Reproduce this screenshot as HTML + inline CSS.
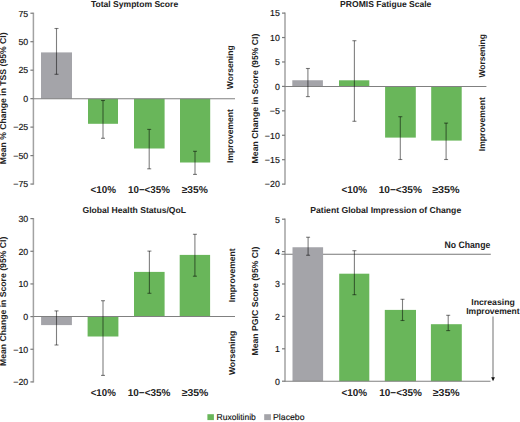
<!DOCTYPE html>
<html><head><meta charset="utf-8"><style>
html,body{margin:0;padding:0;background:#fff;}
svg{display:block;font-family:"Liberation Sans",sans-serif;text-rendering:geometricPrecision;}
</style></head><body>
<svg width="520" height="422" viewBox="0 0 520 422">
<rect x="0" y="0" width="520" height="422" fill="#fff"/>
<line x1="33.40" y1="12.63" x2="33.40" y2="184.67" stroke="#a2a2a2" stroke-width="1.5"/>
<line x1="30.40" y1="13.23" x2="33.40" y2="13.23" stroke="#7a7a7a" stroke-width="1.2"/>
<text x="28.20" y="16.53" font-size="8.8" text-anchor="end" fill="#111" stroke="#111" stroke-width="0.15">75</text>
<line x1="30.40" y1="41.70" x2="33.40" y2="41.70" stroke="#7a7a7a" stroke-width="1.2"/>
<text x="28.20" y="45.00" font-size="8.8" text-anchor="end" fill="#111" stroke="#111" stroke-width="0.15">50</text>
<line x1="30.40" y1="70.18" x2="33.40" y2="70.18" stroke="#7a7a7a" stroke-width="1.2"/>
<text x="28.20" y="73.48" font-size="8.8" text-anchor="end" fill="#111" stroke="#111" stroke-width="0.15">25</text>
<line x1="30.40" y1="98.65" x2="33.40" y2="98.65" stroke="#7a7a7a" stroke-width="1.2"/>
<text x="28.20" y="101.95" font-size="8.8" text-anchor="end" fill="#111" stroke="#111" stroke-width="0.15">0</text>
<line x1="30.40" y1="127.12" x2="33.40" y2="127.12" stroke="#7a7a7a" stroke-width="1.2"/>
<text x="28.20" y="130.43" font-size="8.8" text-anchor="end" fill="#111" stroke="#111" stroke-width="0.15">−25</text>
<line x1="30.40" y1="155.60" x2="33.40" y2="155.60" stroke="#7a7a7a" stroke-width="1.2"/>
<text x="28.20" y="158.90" font-size="8.8" text-anchor="end" fill="#111" stroke="#111" stroke-width="0.15">−50</text>
<line x1="30.40" y1="184.07" x2="33.40" y2="184.07" stroke="#7a7a7a" stroke-width="1.2"/>
<text x="28.20" y="187.38" font-size="8.8" text-anchor="end" fill="#111" stroke="#111" stroke-width="0.15">−75</text>
<rect x="41.00" y="52.40" width="31.00" height="46.35" fill="#a4a4a9"/>
<rect x="88.00" y="98.75" width="30.00" height="25.05" fill="#69b65a"/>
<rect x="134.00" y="98.75" width="30.60" height="49.75" fill="#69b65a"/>
<rect x="180.00" y="98.75" width="30.20" height="63.75" fill="#69b65a"/>
<line x1="33.40" y1="98.75" x2="235.00" y2="98.75" stroke="#808080" stroke-width="1.15"/>
<line x1="56.50" y1="28.50" x2="56.50" y2="74.30" stroke="#000" stroke-width="1.1" stroke-opacity="0.5"/>
<line x1="54.50" y1="28.50" x2="58.50" y2="28.50" stroke="#000" stroke-width="1.1" stroke-opacity="0.5"/>
<line x1="54.50" y1="74.30" x2="58.50" y2="74.30" stroke="#000" stroke-width="1.1" stroke-opacity="0.5"/>
<line x1="103.00" y1="100.50" x2="103.00" y2="138.30" stroke="#000" stroke-width="1.1" stroke-opacity="0.5"/>
<line x1="101.00" y1="100.50" x2="105.00" y2="100.50" stroke="#000" stroke-width="1.1" stroke-opacity="0.5"/>
<line x1="101.00" y1="138.30" x2="105.00" y2="138.30" stroke="#000" stroke-width="1.1" stroke-opacity="0.5"/>
<line x1="149.20" y1="129.40" x2="149.20" y2="168.80" stroke="#000" stroke-width="1.1" stroke-opacity="0.5"/>
<line x1="147.20" y1="129.40" x2="151.20" y2="129.40" stroke="#000" stroke-width="1.1" stroke-opacity="0.5"/>
<line x1="147.20" y1="168.80" x2="151.20" y2="168.80" stroke="#000" stroke-width="1.1" stroke-opacity="0.5"/>
<line x1="195.00" y1="151.30" x2="195.00" y2="174.40" stroke="#000" stroke-width="1.1" stroke-opacity="0.5"/>
<line x1="193.00" y1="151.30" x2="197.00" y2="151.30" stroke="#000" stroke-width="1.1" stroke-opacity="0.5"/>
<line x1="193.00" y1="174.40" x2="197.00" y2="174.40" stroke="#000" stroke-width="1.1" stroke-opacity="0.5"/>
<text x="90.91" y="7.00" font-size="8.6" font-weight="bold" fill="#222" textLength="87.27" lengthAdjust="spacingAndGlyphs">Total Symptom Score</text>
<text x="233.40" y="89.20" transform="rotate(-90 233.40 89.20)" font-size="8.6" font-weight="bold" fill="#222" textLength="43.86" lengthAdjust="spacingAndGlyphs">Worsening</text>
<text x="233.50" y="162.88" transform="rotate(-90 233.50 162.88)" font-size="8.6" font-weight="bold" fill="#222" textLength="53.78" lengthAdjust="spacingAndGlyphs">Improvement</text>
<text x="6.30" y="164.18" transform="rotate(-90 6.30 164.18)" font-size="8.6" font-weight="bold" fill="#222" textLength="131.72" lengthAdjust="spacingAndGlyphs">Mean % Change in TSS (95% CI)</text>
<text x="90.48" y="193.00" font-size="10.0" font-weight="bold" fill="#222" textLength="25.47" lengthAdjust="spacingAndGlyphs">&lt;10%</text>
<text x="128.09" y="193.00" font-size="10.0" font-weight="bold" fill="#222" textLength="41.77" lengthAdjust="spacingAndGlyphs">10−&lt;35%</text>
<text x="181.67" y="193.00" font-size="10.0" font-weight="bold" fill="#222" textLength="26.12" lengthAdjust="spacingAndGlyphs">≥35%</text>
<line x1="285.00" y1="12.51" x2="285.00" y2="184.72" stroke="#a2a2a2" stroke-width="1.5"/>
<line x1="282.00" y1="13.11" x2="285.00" y2="13.11" stroke="#7a7a7a" stroke-width="1.2"/>
<text x="279.80" y="16.41" font-size="8.8" text-anchor="end" fill="#111" stroke="#111" stroke-width="0.15">15</text>
<line x1="282.00" y1="37.54" x2="285.00" y2="37.54" stroke="#7a7a7a" stroke-width="1.2"/>
<text x="279.80" y="40.84" font-size="8.8" text-anchor="end" fill="#111" stroke="#111" stroke-width="0.15">10</text>
<line x1="282.00" y1="61.97" x2="285.00" y2="61.97" stroke="#7a7a7a" stroke-width="1.2"/>
<text x="279.80" y="65.27" font-size="8.8" text-anchor="end" fill="#111" stroke="#111" stroke-width="0.15">5</text>
<line x1="282.00" y1="86.40" x2="285.00" y2="86.40" stroke="#7a7a7a" stroke-width="1.2"/>
<text x="279.80" y="89.70" font-size="8.8" text-anchor="end" fill="#111" stroke="#111" stroke-width="0.15">0</text>
<line x1="282.00" y1="110.83" x2="285.00" y2="110.83" stroke="#7a7a7a" stroke-width="1.2"/>
<text x="279.80" y="114.13" font-size="8.8" text-anchor="end" fill="#111" stroke="#111" stroke-width="0.15">−5</text>
<line x1="282.00" y1="135.26" x2="285.00" y2="135.26" stroke="#7a7a7a" stroke-width="1.2"/>
<text x="279.80" y="138.56" font-size="8.8" text-anchor="end" fill="#111" stroke="#111" stroke-width="0.15">−10</text>
<line x1="282.00" y1="159.69" x2="285.00" y2="159.69" stroke="#7a7a7a" stroke-width="1.2"/>
<text x="279.80" y="162.99" font-size="8.8" text-anchor="end" fill="#111" stroke="#111" stroke-width="0.15">−15</text>
<line x1="282.00" y1="184.12" x2="285.00" y2="184.12" stroke="#7a7a7a" stroke-width="1.2"/>
<text x="279.80" y="187.42" font-size="8.8" text-anchor="end" fill="#111" stroke="#111" stroke-width="0.15">−20</text>
<rect x="292.30" y="80.25" width="30.60" height="6.25" fill="#a4a4a9"/>
<rect x="339.00" y="80.30" width="30.30" height="6.20" fill="#69b65a"/>
<rect x="385.10" y="86.50" width="30.70" height="51.10" fill="#69b65a"/>
<rect x="431.20" y="86.50" width="30.50" height="54.10" fill="#69b65a"/>
<line x1="285.00" y1="86.50" x2="486.40" y2="86.50" stroke="#808080" stroke-width="1.15"/>
<line x1="307.90" y1="68.50" x2="307.90" y2="96.60" stroke="#000" stroke-width="1.1" stroke-opacity="0.5"/>
<line x1="305.90" y1="68.50" x2="309.90" y2="68.50" stroke="#000" stroke-width="1.1" stroke-opacity="0.5"/>
<line x1="305.90" y1="96.60" x2="309.90" y2="96.60" stroke="#000" stroke-width="1.1" stroke-opacity="0.5"/>
<line x1="354.40" y1="40.70" x2="354.40" y2="121.30" stroke="#000" stroke-width="1.1" stroke-opacity="0.5"/>
<line x1="352.40" y1="40.70" x2="356.40" y2="40.70" stroke="#000" stroke-width="1.1" stroke-opacity="0.5"/>
<line x1="352.40" y1="121.30" x2="356.40" y2="121.30" stroke="#000" stroke-width="1.1" stroke-opacity="0.5"/>
<line x1="400.30" y1="116.70" x2="400.30" y2="159.50" stroke="#000" stroke-width="1.1" stroke-opacity="0.5"/>
<line x1="398.30" y1="116.70" x2="402.30" y2="116.70" stroke="#000" stroke-width="1.1" stroke-opacity="0.5"/>
<line x1="398.30" y1="159.50" x2="402.30" y2="159.50" stroke="#000" stroke-width="1.1" stroke-opacity="0.5"/>
<line x1="446.10" y1="123.10" x2="446.10" y2="159.50" stroke="#000" stroke-width="1.1" stroke-opacity="0.5"/>
<line x1="444.10" y1="123.10" x2="448.10" y2="123.10" stroke="#000" stroke-width="1.1" stroke-opacity="0.5"/>
<line x1="444.10" y1="159.50" x2="448.10" y2="159.50" stroke="#000" stroke-width="1.1" stroke-opacity="0.5"/>
<text x="340.12" y="7.00" font-size="8.6" font-weight="bold" fill="#222" textLength="91.27" lengthAdjust="spacingAndGlyphs">PROMIS Fatigue Scale</text>
<text x="485.10" y="77.60" transform="rotate(-90 485.10 77.60)" font-size="8.6" font-weight="bold" fill="#222" textLength="43.56" lengthAdjust="spacingAndGlyphs">Worsening</text>
<text x="485.20" y="151.18" transform="rotate(-90 485.20 151.18)" font-size="8.6" font-weight="bold" fill="#222" textLength="54.08" lengthAdjust="spacingAndGlyphs">Improvement</text>
<text x="257.60" y="163.39" transform="rotate(-90 257.60 163.39)" font-size="8.6" font-weight="bold" fill="#222" textLength="129.83" lengthAdjust="spacingAndGlyphs">Mean Change in Score (95% CI)</text>
<text x="341.58" y="193.00" font-size="10.0" font-weight="bold" fill="#222" textLength="25.57" lengthAdjust="spacingAndGlyphs">&lt;10%</text>
<text x="378.67" y="193.00" font-size="10.0" font-weight="bold" fill="#222" textLength="43.20" lengthAdjust="spacingAndGlyphs">10−&lt;35%</text>
<text x="432.16" y="193.00" font-size="10.0" font-weight="bold" fill="#222" textLength="27.54" lengthAdjust="spacingAndGlyphs">≥35%</text>
<line x1="33.40" y1="218.02" x2="33.40" y2="382.52" stroke="#a2a2a2" stroke-width="1.5"/>
<line x1="30.40" y1="218.62" x2="33.40" y2="218.62" stroke="#7a7a7a" stroke-width="1.2"/>
<text x="28.20" y="221.92" font-size="8.8" text-anchor="end" fill="#111" stroke="#111" stroke-width="0.15">30</text>
<line x1="30.40" y1="251.28" x2="33.40" y2="251.28" stroke="#7a7a7a" stroke-width="1.2"/>
<text x="28.20" y="254.58" font-size="8.8" text-anchor="end" fill="#111" stroke="#111" stroke-width="0.15">20</text>
<line x1="30.40" y1="283.94" x2="33.40" y2="283.94" stroke="#7a7a7a" stroke-width="1.2"/>
<text x="28.20" y="287.24" font-size="8.8" text-anchor="end" fill="#111" stroke="#111" stroke-width="0.15">10</text>
<line x1="30.40" y1="316.60" x2="33.40" y2="316.60" stroke="#7a7a7a" stroke-width="1.2"/>
<text x="28.20" y="319.90" font-size="8.8" text-anchor="end" fill="#111" stroke="#111" stroke-width="0.15">0</text>
<line x1="30.40" y1="349.26" x2="33.40" y2="349.26" stroke="#7a7a7a" stroke-width="1.2"/>
<text x="28.20" y="352.56" font-size="8.8" text-anchor="end" fill="#111" stroke="#111" stroke-width="0.15">−10</text>
<line x1="30.40" y1="381.92" x2="33.40" y2="381.92" stroke="#7a7a7a" stroke-width="1.2"/>
<text x="28.20" y="385.22" font-size="8.8" text-anchor="end" fill="#111" stroke="#111" stroke-width="0.15">−20</text>
<rect x="41.10" y="316.50" width="30.80" height="8.60" fill="#a4a4a9"/>
<rect x="87.60" y="316.50" width="30.80" height="20.00" fill="#69b65a"/>
<rect x="134.00" y="271.90" width="30.60" height="44.60" fill="#69b65a"/>
<rect x="179.70" y="254.90" width="30.40" height="61.60" fill="#69b65a"/>
<line x1="33.40" y1="316.50" x2="235.00" y2="316.50" stroke="#808080" stroke-width="1.15"/>
<line x1="56.50" y1="310.90" x2="56.50" y2="345.00" stroke="#000" stroke-width="1.1" stroke-opacity="0.5"/>
<line x1="54.50" y1="310.90" x2="58.50" y2="310.90" stroke="#000" stroke-width="1.1" stroke-opacity="0.5"/>
<line x1="54.50" y1="345.00" x2="58.50" y2="345.00" stroke="#000" stroke-width="1.1" stroke-opacity="0.5"/>
<line x1="103.00" y1="300.70" x2="103.00" y2="375.40" stroke="#000" stroke-width="1.1" stroke-opacity="0.5"/>
<line x1="101.00" y1="300.70" x2="105.00" y2="300.70" stroke="#000" stroke-width="1.1" stroke-opacity="0.5"/>
<line x1="101.00" y1="375.40" x2="105.00" y2="375.40" stroke="#000" stroke-width="1.1" stroke-opacity="0.5"/>
<line x1="149.40" y1="251.10" x2="149.40" y2="293.30" stroke="#000" stroke-width="1.1" stroke-opacity="0.5"/>
<line x1="147.40" y1="251.10" x2="151.40" y2="251.10" stroke="#000" stroke-width="1.1" stroke-opacity="0.5"/>
<line x1="147.40" y1="293.30" x2="151.40" y2="293.30" stroke="#000" stroke-width="1.1" stroke-opacity="0.5"/>
<line x1="194.90" y1="234.30" x2="194.90" y2="276.20" stroke="#000" stroke-width="1.1" stroke-opacity="0.5"/>
<line x1="192.90" y1="234.30" x2="196.90" y2="234.30" stroke="#000" stroke-width="1.1" stroke-opacity="0.5"/>
<line x1="192.90" y1="276.20" x2="196.90" y2="276.20" stroke="#000" stroke-width="1.1" stroke-opacity="0.5"/>
<text x="82.56" y="212.70" font-size="8.6" font-weight="bold" fill="#222" textLength="103.42" lengthAdjust="spacingAndGlyphs">Global Health Status/QoL</text>
<text x="234.80" y="302.18" transform="rotate(-90 234.80 302.18)" font-size="8.6" font-weight="bold" fill="#222" textLength="53.88" lengthAdjust="spacingAndGlyphs">Improvement</text>
<text x="234.80" y="375.10" transform="rotate(-90 234.80 375.10)" font-size="8.6" font-weight="bold" fill="#222" textLength="44.37" lengthAdjust="spacingAndGlyphs">Worsening</text>
<text x="6.50" y="365.98" transform="rotate(-90 6.50 365.98)" font-size="8.6" font-weight="bold" fill="#222" textLength="129.32" lengthAdjust="spacingAndGlyphs">Mean Change in Score (95% CI)</text>
<text x="90.69" y="395.70" font-size="10.0" font-weight="bold" fill="#222" textLength="25.06" lengthAdjust="spacingAndGlyphs">&lt;10%</text>
<text x="127.78" y="395.70" font-size="10.0" font-weight="bold" fill="#222" textLength="42.69" lengthAdjust="spacingAndGlyphs">10−&lt;35%</text>
<text x="181.67" y="395.70" font-size="10.0" font-weight="bold" fill="#222" textLength="26.63" lengthAdjust="spacingAndGlyphs">≥35%</text>
<line x1="285.00" y1="218.60" x2="285.00" y2="381.80" stroke="#a2a2a2" stroke-width="1.5"/>
<line x1="282.00" y1="219.20" x2="285.00" y2="219.20" stroke="#7a7a7a" stroke-width="1.2"/>
<text x="279.80" y="222.50" font-size="8.8" text-anchor="end" fill="#111" stroke="#111" stroke-width="0.15">5</text>
<line x1="282.00" y1="251.60" x2="285.00" y2="251.60" stroke="#7a7a7a" stroke-width="1.2"/>
<text x="279.80" y="254.90" font-size="8.8" text-anchor="end" fill="#111" stroke="#111" stroke-width="0.15">4</text>
<line x1="282.00" y1="284.00" x2="285.00" y2="284.00" stroke="#7a7a7a" stroke-width="1.2"/>
<text x="279.80" y="287.30" font-size="8.8" text-anchor="end" fill="#111" stroke="#111" stroke-width="0.15">3</text>
<line x1="282.00" y1="316.40" x2="285.00" y2="316.40" stroke="#7a7a7a" stroke-width="1.2"/>
<text x="279.80" y="319.70" font-size="8.8" text-anchor="end" fill="#111" stroke="#111" stroke-width="0.15">2</text>
<line x1="282.00" y1="348.80" x2="285.00" y2="348.80" stroke="#7a7a7a" stroke-width="1.2"/>
<text x="279.80" y="352.10" font-size="8.8" text-anchor="end" fill="#111" stroke="#111" stroke-width="0.15">1</text>
<line x1="282.00" y1="381.20" x2="285.00" y2="381.20" stroke="#7a7a7a" stroke-width="1.2"/>
<text x="279.80" y="384.50" font-size="8.8" text-anchor="end" fill="#111" stroke="#111" stroke-width="0.15">0</text>
<line x1="281.50" y1="254.20" x2="490.80" y2="254.20" stroke="#777" stroke-width="1.1"/>
<rect x="292.50" y="247.25" width="30.60" height="133.95" fill="#a4a4a9"/>
<rect x="339.20" y="273.70" width="30.10" height="107.50" fill="#69b65a"/>
<rect x="384.80" y="309.90" width="31.20" height="71.30" fill="#69b65a"/>
<rect x="430.90" y="324.20" width="30.90" height="57.00" fill="#69b65a"/>
<line x1="285.00" y1="381.20" x2="490.50" y2="381.20" stroke="#808080" stroke-width="1.15"/>
<line x1="308.10" y1="237.25" x2="308.10" y2="255.25" stroke="#000" stroke-width="1.1" stroke-opacity="0.5"/>
<line x1="306.10" y1="237.25" x2="310.10" y2="237.25" stroke="#000" stroke-width="1.1" stroke-opacity="0.5"/>
<line x1="306.10" y1="255.25" x2="310.10" y2="255.25" stroke="#000" stroke-width="1.1" stroke-opacity="0.5"/>
<line x1="354.40" y1="250.70" x2="354.40" y2="294.70" stroke="#000" stroke-width="1.1" stroke-opacity="0.5"/>
<line x1="352.40" y1="250.70" x2="356.40" y2="250.70" stroke="#000" stroke-width="1.1" stroke-opacity="0.5"/>
<line x1="352.40" y1="294.70" x2="356.40" y2="294.70" stroke="#000" stroke-width="1.1" stroke-opacity="0.5"/>
<line x1="402.50" y1="299.30" x2="402.50" y2="320.50" stroke="#000" stroke-width="1.1" stroke-opacity="0.5"/>
<line x1="400.50" y1="299.30" x2="404.50" y2="299.30" stroke="#000" stroke-width="1.1" stroke-opacity="0.5"/>
<line x1="400.50" y1="320.50" x2="404.50" y2="320.50" stroke="#000" stroke-width="1.1" stroke-opacity="0.5"/>
<line x1="448.20" y1="315.30" x2="448.20" y2="330.60" stroke="#000" stroke-width="1.1" stroke-opacity="0.5"/>
<line x1="446.20" y1="315.30" x2="450.20" y2="315.30" stroke="#000" stroke-width="1.1" stroke-opacity="0.5"/>
<line x1="446.20" y1="330.60" x2="450.20" y2="330.60" stroke="#000" stroke-width="1.1" stroke-opacity="0.5"/>
<text x="310.32" y="212.70" font-size="8.6" font-weight="bold" fill="#222" textLength="150.87" lengthAdjust="spacingAndGlyphs">Patient Global Impression of Change</text>
<text x="444.51" y="247.80" font-size="9.4" font-weight="bold" fill="#222" textLength="45.77" lengthAdjust="spacingAndGlyphs">No Change</text>
<text x="471.21" y="304.60" font-size="8.6" font-weight="bold" fill="#222" textLength="43.65" lengthAdjust="spacingAndGlyphs">Increasing</text>
<text x="466.23" y="313.70" font-size="8.6" font-weight="bold" fill="#222" textLength="53.38" lengthAdjust="spacingAndGlyphs">Improvement</text>
<line x1="493.00" y1="316.60" x2="493.00" y2="378.00" stroke="#9a9a9a" stroke-width="1.4"/>
<path d="M491.2 377.3 L494.9 377.3 L493.05 381.2 Z" fill="#111"/>
<text x="257.60" y="355.49" transform="rotate(-90 257.60 355.49)" font-size="8.6" font-weight="bold" fill="#222" textLength="108.91" lengthAdjust="spacingAndGlyphs">Mean PGIC Score (95% CI)</text>
<text x="341.58" y="396.00" font-size="10.0" font-weight="bold" fill="#222" textLength="25.57" lengthAdjust="spacingAndGlyphs">&lt;10%</text>
<text x="379.28" y="396.00" font-size="10.0" font-weight="bold" fill="#222" textLength="42.59" lengthAdjust="spacingAndGlyphs">10−&lt;35%</text>
<text x="432.76" y="396.00" font-size="10.0" font-weight="bold" fill="#222" textLength="26.93" lengthAdjust="spacingAndGlyphs">≥35%</text>
<rect x="207.40" y="414.20" width="6.50" height="5.90" fill="#69b65a"/>
<text x="216.50" y="419.90" font-size="8.5" font-weight="normal" fill="#111" stroke="#111" stroke-width="0.15" textLength="39.35" lengthAdjust="spacingAndGlyphs">Ruxolitinib</text>
<rect x="264.20" y="414.20" width="6.70" height="5.90" fill="#a4a4a9"/>
<text x="273.08" y="419.90" font-size="8.5" font-weight="normal" fill="#111" stroke="#111" stroke-width="0.15" textLength="31.38" lengthAdjust="spacingAndGlyphs">Placebo</text>
</svg>
</body></html>
